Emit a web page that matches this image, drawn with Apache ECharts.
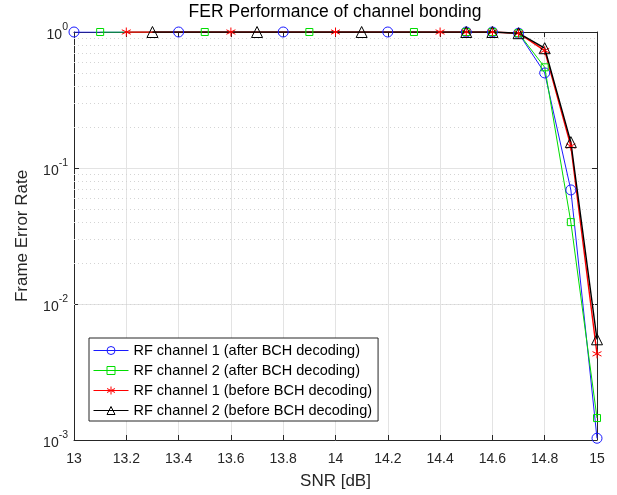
<!DOCTYPE html>
<html><head><meta charset="utf-8">
<script src="https://cdn.jsdelivr.net/npm/echarts@6/dist/echarts.min.js"></script>
<style>html,body{margin:0;padding:0;background:#fff}#c{width:617px;height:495px}</style>
</head><body><div id="c"></div>
<script>
var seriesNames = ['RF channel 1 (after BCH decoding)','RF channel 2 (after BCH decoding)','RF channel 1 (before BCH decoding)','RF channel 2 (before BCH decoding)'];
var blueX  = [13.0, 13.4, 13.8, 14.2, 14.5, 14.6, 14.7, 14.8, 14.9, 15.0];
var blueY  = [1, 1, 1, 1, 1, 1, 0.98, 0.50, 0.069, 0.00103];
var greenX = [13.1, 13.5, 13.9, 14.3, 14.5, 14.6, 14.7, 14.8, 14.9, 15.0];
var greenY = [1, 1, 1, 1, 1, 1, 0.98, 0.55, 0.040, 0.00145];
var redX   = [13.2, 13.6, 14.0, 14.4, 14.5, 14.6, 14.7, 14.8, 14.9, 15.0];
var redY   = [1, 1, 1, 1, 1, 1, 0.98, 0.73, 0.145, 0.0043];
var blackX = [13.3, 13.7, 14.1, 14.5, 14.6, 14.7, 14.8, 14.9, 15.0];
var blackY = [1, 1, 1, 1, 1, 0.98, 0.76, 0.155, 0.0055];
var yTickExponents = ['-3','-2','-1','0'];
var minorGridMantissas = [2,3,4,5,6,7,8,9];
var decades = [0.001, 0.01, 0.1];

function pairs(xs, ys){ return xs.map(function(x,i){ return [x, ys[i]]; }); }
var minorLines = [];
decades.forEach(function(d){ minorGridMantissas.forEach(function(m){ minorLines.push({yAxis: +(m*d).toPrecision(3)}); }); });

var FONT = '"Liberation Sans", Arial, sans-serif';
var AX = '#262626';
var asterisk = 'path://M5,0L5,10M0.7,2.5L9.3,7.5M0.7,7.5L9.3,2.5';

function mk(name, data, color, symbol, size, lw, extra){
  var s = {
    name: name, type: 'line', data: data, symbol: symbol, symbolSize: size,
    showSymbol: true, animation: false,
    lineStyle: {color: color, width: lw},
    itemStyle: {color: 'rgba(0,0,0,0)', borderColor: color, borderWidth: 1},
    emphasis: {disabled: true}
  };
  if (extra) for (var k in extra) s[k] = extra[k];
  return s;
}

var chart = echarts.init(document.getElementById('c'), null, {renderer: 'canvas'});
chart.setOption({
  backgroundColor: '#fff',
  animation: false,
  textStyle: {fontFamily: FONT},
  title: {text: 'FER Performance of channel bonding', left: 335, top: 3, padding: 0, textAlign: 'center',
          textStyle: {fontFamily: FONT, fontSize: 17.5, fontWeight: 'normal', color: '#000'}},
  grid: {left: 74, right: 20, top: 32, bottom: 51, containLabel: false},
  legend: {
    orient: 'vertical', left: 89, top: 338,
    padding: [4, 6, 2, 4], itemGap: 3, itemWidth: 35, itemHeight: 10,
    backgroundColor: '#fff', borderColor: AX, borderWidth: 1, borderRadius: 0,
    lineStyle: {width: 1},
    itemStyle: {borderWidth: 1},
    textStyle: {fontFamily: FONT, fontSize: 14.5, color: '#000', lineHeight: 17},
    data: seriesNames
  },
  xAxis: [{
    type: 'value', min: 13, max: 15, interval: 0.2,
    name: 'SNR [dB]', nameLocation: 'middle', nameGap: 33,
    nameTextStyle: {fontFamily: FONT, fontSize: 17, color: AX},
    axisLine: {lineStyle: {color: AX, width: 1}},
    axisTick: {inside: true, length: 5, lineStyle: {color: AX}},
    axisLabel: {fontFamily: FONT, fontSize: 14, color: AX, margin: 12},
    splitLine: {show: true, lineStyle: {color: '#e3e3e3', width: 1}}
  }, {
    type: 'value', min: 13, max: 15, interval: 0.2, position: 'top',
    axisLine: {show: true, onZero: false, lineStyle: {color: AX, width: 1}},
    axisTick: {inside: true, length: 5, lineStyle: {color: AX}},
    axisLabel: {show: false}, splitLine: {show: false}
  }],
  yAxis: [{
    type: 'log', logBase: 10, min: 0.001, max: 1,
    name: 'Frame Error Rate', nameLocation: 'middle', nameGap: 43,
    nameTextStyle: {fontFamily: FONT, fontSize: 17, color: AX},
    axisLine: {show: true, lineStyle: {color: AX, width: 1}},
    axisTick: {show: true, inside: true, length: 5, lineStyle: {color: AX}},
    axisLabel: {
      margin: 6,
      formatter: function(v){
        var e = String(Math.round(Math.log10(v)));
        var idx = yTickExponents.indexOf(e);
        return '{b|10}{s|' + yTickExponents[idx] + '}';
      },
      rich: {
        b: {fontFamily: FONT, fontSize: 14, color: AX, verticalAlign: 'bottom', lineHeight: 20},
        s: {fontFamily: FONT, fontSize: 10.5, color: AX, verticalAlign: 'top', lineHeight: 20}
      }
    },
    splitLine: {show: true, lineStyle: {color: '#e3e3e3', width: 1}}
  }, {
    type: 'log', logBase: 10, min: 0.001, max: 1, position: 'right',
    axisLine: {show: true, onZero: false, lineStyle: {color: AX, width: 1}},
    axisTick: {show: true, inside: true, length: 5, lineStyle: {color: AX}},
    axisLabel: {show: false}, splitLine: {show: false}
  }],
  series: [
    mk(seriesNames[0], pairs(blueX, blueY), '#1a1aff', 'circle', 10, 1, {
      markLine: {silent: true, symbol: ['none','none'], label: {show: false}, animation: false,
        lineStyle: {color: '#d4d4d4', type: [1, 3], width: 1}, data: minorLines, z: 1}
    }),
    mk(seriesNames[1], pairs(greenX, greenY), '#00dd00', 'rect', 7, 1),
    mk(seriesNames[2], pairs(redX, redY), '#ff0000', asterisk, 9, 1.4),
    mk(seriesNames[3], pairs(blackX, blackY), '#000000', 'triangle', 11, 1.4)
  ]
});
</script></body></html>
